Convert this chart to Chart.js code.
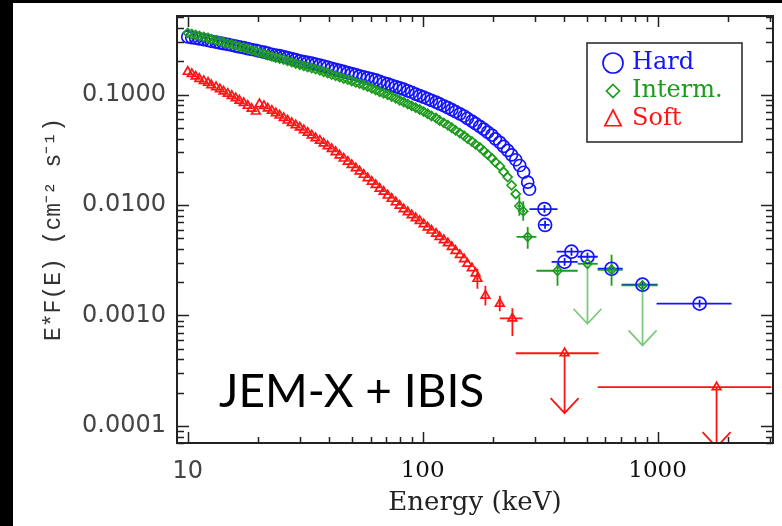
<!DOCTYPE html>
<html>
<head>
<meta charset="utf-8">
<script src="https://cdn.jsdelivr.net/npm/chart.js@4/dist/chart.umd.min.js"></script>
<style>
  html, body { margin: 0; padding: 0; background: #fff; }
  #spec { display: block; }
</style>
</head>
<body>
<canvas id="spec" width="782" height="526"></canvas>
<script>
// JEM-X + IBIS spectra, E in keV, E*F(E) in cm^-2 s^-1
const hardE = [10.0, 10.4, 10.8, 11.2, 11.7, 12.2, 12.6, 13.2, 13.7, 14.2, 14.8, 15.4, 16.0, 16.6, 17.3,
  18.0, 18.7, 19.5, 20.2, 21.1, 21.9, 22.8, 23.7, 24.6, 25.6, 26.6, 27.7, 28.8, 30.0, 31.2, 32.4, 33.7,
  35.0, 36.5, 37.9, 39.4, 41.0, 42.6, 44.3, 46.1, 48.0, 49.9, 51.9, 53.9, 56.1, 58.3, 60.7, 63.1, 65.6,
  68.2, 71.0, 73.8, 76.8, 79.8, 83.0, 86.4, 89.8, 93.4, 97.1, 101, 105, 109, 114, 118, 123, 128, 133, 138,
  144, 150, 155, 162, 168, 175, 182, 189, 197, 204, 213, 221, 230, 239, 249, 259, 269, 280, 285];
const hardF = [0.333, 0.328, 0.324, 0.320, 0.314, 0.309, 0.304, 0.299, 0.294, 0.289, 0.285, 0.280, 0.275,
  0.271, 0.266, 0.261, 0.256, 0.252, 0.247, 0.242, 0.237, 0.232, 0.228, 0.225, 0.221, 0.216, 0.212, 0.207,
  0.202, 0.199, 0.196, 0.193, 0.189, 0.185, 0.181, 0.177, 0.173, 0.169, 0.166, 0.162, 0.158, 0.155, 0.152,
  0.148, 0.145, 0.142, 0.139, 0.136, 0.132, 0.128, 0.125, 0.121, 0.118, 0.115, 0.112, 0.108, 0.105, 0.101,
  0.0979, 0.0947, 0.0917, 0.0887, 0.0856, 0.0824, 0.0793, 0.0762, 0.0731, 0.0700, 0.0670, 0.0640, 0.0608,
  0.0575, 0.0545, 0.0515, 0.0486, 0.0458, 0.0429, 0.0398, 0.0370, 0.0340, 0.0313, 0.0285, 0.0257, 0.0228,
  0.0198, 0.0161, 0.0139];

const intermE = [10.0, 10.4, 10.8, 11.2, 11.7, 12.2, 12.6, 13.2, 13.7, 14.2, 14.8, 15.4, 16.0, 16.6, 17.3,
  18.0, 18.7, 19.5, 20.2, 21.1, 21.9, 22.8, 23.7, 24.6, 25.6, 26.6, 27.7, 28.8, 30.0, 31.2, 32.4, 33.7,
  35.0, 36.5, 37.9, 39.4, 41.0, 42.6, 44.3, 46.1, 48.0, 49.9, 51.9, 53.9, 56.1, 58.3, 60.7, 63.1, 65.6,
  68.2, 71.0, 73.8, 76.8, 79.8, 83.0, 86.4, 89.8, 93.4, 97.1, 101, 105, 109, 114, 118, 123, 128, 133, 138,
  144, 150, 155, 162, 168, 175, 182, 189, 197, 204, 213, 221, 230, 239, 249];
const intermF = [0.362, 0.354, 0.347, 0.340, 0.332, 0.326, 0.318, 0.311, 0.305, 0.298, 0.291, 0.285, 0.279,
  0.272, 0.267, 0.260, 0.253, 0.247, 0.241, 0.234, 0.228, 0.222, 0.217, 0.212, 0.208, 0.202, 0.197, 0.191,
  0.186, 0.182, 0.178, 0.174, 0.170, 0.166, 0.161, 0.157, 0.152, 0.148, 0.144, 0.140, 0.137, 0.133, 0.129,
  0.126, 0.122, 0.118, 0.114, 0.110, 0.106, 0.103, 0.0996, 0.0961, 0.0926, 0.0888, 0.0856, 0.0823, 0.0791,
  0.0762, 0.0733, 0.0701, 0.0670, 0.0641, 0.0613, 0.0583, 0.0555, 0.0528, 0.0501, 0.0474, 0.0448, 0.0424,
  0.0400, 0.0376, 0.0354, 0.0333, 0.0309, 0.0287, 0.0265, 0.0244, 0.0225, 0.0200, 0.0179, 0.0151, 0.0126];

const softE = [10.0, 10.4, 10.8, 11.2, 11.7, 12.2, 12.6, 13.2, 13.7, 14.2, 14.8, 15.4, 16.0, 16.6, 17.3,
  18.0, 18.7, 19.5, 20.2, 21.1, 21.9, 22.8, 23.7, 24.6, 25.6, 26.6, 27.7, 28.8, 30.0, 31.2, 32.4, 33.7,
  35.0, 36.5, 37.9, 39.4, 41.0, 42.6, 44.3, 46.1, 48.0, 49.9, 51.9, 53.9, 56.1, 58.3, 60.7, 63.1, 65.6,
  68.2, 71.0, 73.8, 76.8, 79.8, 83.0, 86.4, 89.8, 93.4, 97.1, 101, 105, 109, 114, 118, 123, 128, 133, 138,
  144, 150, 155, 162, 168];
const softF = [0.161, 0.154, 0.146, 0.139, 0.133, 0.128, 0.122, 0.117, 0.112, 0.107, 0.102, 0.0975, 0.0928,
  0.0883, 0.0840, 0.0793, 0.0746, 0.0703, 0.0821, 0.0791, 0.0751, 0.0715, 0.0680, 0.0647, 0.0616, 0.0583,
  0.0555, 0.0528, 0.0504, 0.0477, 0.0452, 0.0427, 0.0404, 0.0383, 0.0362, 0.0342, 0.0322, 0.0302, 0.0282,
  0.0264, 0.0247, 0.0231, 0.0216, 0.0202, 0.0188, 0.0175, 0.0163, 0.0152, 0.0141, 0.0132, 0.0122, 0.0114,
  0.0106, 0.00986, 0.00918, 0.00861, 0.00811, 0.00762, 0.00718, 0.00671, 0.00628, 0.00588, 0.00550,
  0.00515, 0.00482, 0.00451, 0.00418, 0.00385, 0.00354, 0.00324, 0.00295, 0.00268, 0.00241];

// binned points with error bars (energy bin edges, flux range)
const hardBinE = [330, 332, 402, 430, 503, 637, 863, 1510];
const hardBinF = [0.0092, 0.0066, 0.00306, 0.00378, 0.0034, 0.00265, 0.0019, 0.00128];
const hardBinELo = [285, 315, 354, 372, 457, 556, 703, 990];
const hardBinEHi = [375, 347, 457, 479, 556, 710, 1000, 2065];
const hardBinFLo = [0.0085, 0.0061, 0.00282, 0.00348, 0.00313, 0.00244, 0.00175, 0.00118];
const hardBinFHi = [0.0100, 0.0072, 0.00332, 0.0041, 0.00369, 0.00288, 0.00206, 0.00139];

const intermBinE = [258, 268, 280, 375, 637];
const intermBinF = [0.0098, 0.0088, 0.00515, 0.00254, 0.00259];
const intermBinELo = [253, 263, 251, 305, 556];
const intermBinEHi = [263, 273, 305, 457, 710];
const intermBinFLo = [0.0080, 0.0072, 0.00402, 0.00186, 0.00186];
const intermBinFHi = [0.0120, 0.0108, 0.00634, 0.00306, 0.00355];

const softBinE = [171, 185, 213, 241];
const softBinF = [0.00215, 0.00151, 0.00128, 0.00094];
const softBinELo = [169, 183, 210, 213];
const softBinEHi = [173, 187, 216, 266];
const softBinFLo = [0.00175, 0.00123, 0.00109, 0.00065];
const softBinFHi = [0.00265, 0.00186, 0.00151, 0.00116];

// upper limits
const intermLimE = [503, 863];
const intermLimF = [0.00294, 0.00187];
const intermLimELo = [457, 703];
const intermLimEHi = [556, 1000];

const softLimE = [402, 1783];
const softLimF = [0.000455, 0.000224];
const softLimELo = [249, 556];
const softLimEHi = [561, 3055];

const seriesNames = ['Hard', 'Interm.', 'Soft'];
const xTickLabels = [10, 100, 1000];
const yTickLabels = ['0.0001', '0.0010', '0.0100', '0.1000'];

const BLUE = '#1414ff';
const GREEN = '#1c9c1c';
const RED = '#ff1414';

const pts = (es, fs) => es.map((e, i) => ({ x: e, y: fs[i] }));

const isDecade = v => Math.abs(Math.log10(v) - Math.round(Math.log10(v))) < 1e-6;

function marker(style, color, radius) {
  return {
    showLine: false,
    pointStyle: style,
    pointRadius: radius,
    pointBorderColor: color,
    pointBackgroundColor: 'rgba(0,0,0,0)',
    pointBorderWidth: 1.7,
    borderColor: color,
    backgroundColor: 'rgba(0,0,0,0)'
  };
}

// error bars and upper-limit arrows, under the markers
const errorBars = {
  id: 'errorBars',
  beforeDatasetsDraw(chart) {
    const { ctx, chartArea: a, scales: { x, y } } = chart;
    ctx.save();
    ctx.beginPath();
    ctx.rect(a.left, a.top, a.right - a.left, a.bottom - a.top);
    ctx.clip();
    chart.data.datasets.forEach(ds => {
      if (!ds.eLo) return;
      ds.data.forEach((p, i) => {
        const px = x.getPixelForValue(p.x);
        const py = y.getPixelForValue(p.y);
        ctx.strokeStyle = ds.borderColor;
        ctx.lineWidth = 1.8;
        ctx.beginPath();
        ctx.moveTo(x.getPixelForValue(ds.eLo[i]), py);
        ctx.lineTo(x.getPixelForValue(ds.eHi[i]), py);
        if (ds.fLo) {
          ctx.moveTo(px, y.getPixelForValue(ds.fLo[i]));
          ctx.lineTo(px, y.getPixelForValue(ds.fHi[i]));
        }
        ctx.stroke();
        if (ds.upperLimit) {
          ctx.strokeStyle = ds.arrowColor;
          ctx.lineWidth = 1.8;
          ctx.beginPath();
          ctx.moveTo(px, py);
          ctx.lineTo(px, py + 60);
          ctx.moveTo(px - 14, py + 45);
          ctx.lineTo(px, py + 60);
          ctx.lineTo(px + 14, py + 45);
          ctx.stroke();
        }
      });
    });
    ctx.restore();
  }
};

// black slide edge, white plot page
const page = {
  id: 'page',
  beforeDraw(chart) {
    const ctx = chart.ctx;
    ctx.save();
    ctx.fillStyle = '#fff';
    ctx.fillRect(0, 0, chart.width, chart.height);
    ctx.fillStyle = '#000';
    ctx.fillRect(0, 0, 13, chart.height);
    ctx.fillRect(0, 0, chart.width, 3);
    ctx.restore();
  }
};

function drawSymbol(ctx, style, cx, cy, r) {
  ctx.beginPath();
  if (style === 'circle') {
    ctx.arc(cx, cy, r, 0, Math.PI * 2);
  } else if (style === 'rectRot') {
    ctx.moveTo(cx, cy - r); ctx.lineTo(cx + r, cy); ctx.lineTo(cx, cy + r); ctx.lineTo(cx - r, cy);
    ctx.closePath();
  } else {
    ctx.moveTo(cx, cy - r); ctx.lineTo(cx + r * 0.9, cy + r * 0.75); ctx.lineTo(cx - r * 0.9, cy + r * 0.75);
    ctx.closePath();
  }
  ctx.stroke();
}

// box, inward ticks on all four sides, legend and instrument label
const frame = {
  id: 'frame',
  afterDraw(chart) {
    const { ctx, chartArea: a, scales: { x, y } } = chart;
    ctx.save();
    ctx.strokeStyle = '#222';
    ctx.lineWidth = 1.5;
    ctx.beginPath();
    for (let d = 1; d <= 3; d++) {
      for (let m = 1; m <= 9; m++) {
        const v = m * Math.pow(10, d);
        if (v < x.min || v > x.max) continue;
        const px = Math.round(x.getPixelForValue(v)) + 0.5;
        const len = m === 1 ? 11 : 6;
        ctx.moveTo(px, a.bottom); ctx.lineTo(px, a.bottom - len);
        ctx.moveTo(px, a.top); ctx.lineTo(px, a.top + len);
      }
    }
    for (let d = -5; d <= -1; d++) {
      for (let m = 1; m <= 9; m++) {
        const v = m * Math.pow(10, d);
        if (v < y.min || v > y.max) continue;
        const py = Math.round(y.getPixelForValue(v)) + 0.5;
        const len = m === 1 ? 12 : 7;
        ctx.moveTo(a.left, py); ctx.lineTo(a.left + len, py);
        ctx.moveTo(a.right, py); ctx.lineTo(a.right - len, py);
      }
    }
    ctx.stroke();
    ctx.lineWidth = 2;
    ctx.strokeRect(a.left, a.top, a.right - a.left, a.bottom - a.top);

    // legend
    ctx.lineWidth = 1.5;
    ctx.strokeStyle = '#222';
    ctx.strokeRect(587, 43, 155, 99);
    const styles = ['circle', 'rectRot', 'triangle'];
    const colors = [BLUE, GREEN, RED];
    const radii = [10, 6.5, 9];
    const rows = [63, 91, 119];
    ctx.font = '24px "DejaVu Serif"';
    ctx.textBaseline = 'middle';
    seriesNames.forEach((name, i) => {
      ctx.strokeStyle = colors[i];
      ctx.lineWidth = 1.7;
      drawSymbol(ctx, styles[i], 613, rows[i], radii[i]);
      ctx.fillStyle = colors[i];
      ctx.fillText(name, 632, rows[i]);
    });

    ctx.fillStyle = '#000';
    ctx.textBaseline = 'alphabetic';
    ctx.font = '46px Lato';
    ctx.fillText('JEM-X + IBIS', 219, 407);
    ctx.restore();
  }
};

const withBars = (obj, lo, hi, flo, fhi) => Object.assign(obj, { eLo: lo, eHi: hi, fLo: flo, fHi: fhi });

new Chart(document.getElementById('spec'), {
  type: 'scatter',
  data: {
    datasets: [
      Object.assign({ label: seriesNames[2], data: pts(softE, softF), order: 3 }, marker('triangle', RED, 5)),
      withBars(Object.assign({ data: pts(softBinE, softBinF), order: 3 }, marker('triangle', RED, 5)),
        softBinELo, softBinEHi, softBinFLo, softBinFHi),
      Object.assign({ data: pts(softLimE, softLimF), order: 3, upperLimit: true, arrowColor: RED,
        eLo: softLimELo, eHi: softLimEHi }, marker('triangle', RED, 5)),
      Object.assign({ label: seriesNames[0], data: pts(hardE, hardF), order: 2 }, marker('circle', BLUE, 6)),
      withBars(Object.assign({ data: pts(hardBinE, hardBinF), order: 2 }, marker('circle', BLUE, 6.5)),
        hardBinELo, hardBinEHi, hardBinFLo, hardBinFHi),
      Object.assign({ label: seriesNames[1], data: pts(intermE, intermF), order: 1 }, marker('rectRot', GREEN, 4.5)),
      withBars(Object.assign({ data: pts(intermBinE, intermBinF), order: 1 }, marker('rectRot', GREEN, 4.5)),
        intermBinELo, intermBinEHi, intermBinFLo, intermBinFHi),
      Object.assign({ data: pts(intermLimE, intermLimF), order: 1, upperLimit: true,
        arrowColor: 'rgba(40,165,40,0.6)', eLo: intermLimELo, eHi: intermLimEHi }, marker('rectRot', GREEN, 4.5))
    ]
  },
  options: {
    responsive: false,
    animation: false,
    layout: { padding: { top: 16, right: 9, left: 0, bottom: 0 } },
    plugins: { legend: { display: false }, tooltip: { enabled: false } },
    scales: {
      x: {
        type: 'logarithmic',
        min: 9,
        max: 3100,
        grid: { display: false, drawTicks: false },
        border: { display: false },
        afterFit: s => { s.height = 83; s.paddingLeft = 0; s.paddingRight = 0; },
        ticks: {
          autoSkip: false,
          maxRotation: 0,
          padding: 14,
          color: ctx => (ctx.tick && Math.abs(ctx.tick.value - 10) < 1e-6) ? '#444' : '#111',
          font: ctx => (ctx.tick && Math.abs(ctx.tick.value - 10) < 1e-6)
            ? { family: '"DejaVu Sans"', size: 24 }
            : { family: '"DejaVu Serif"', size: 23 },
          callback: v => {
            const n = Math.round(v);
            return isDecade(v) && xTickLabels.includes(n) ? String(n) : '';
          }
        },
        title: {
          display: true,
          text: 'Energy (keV)',
          color: '#222',
          font: { family: '"DejaVu Serif"', size: 26 },
          padding: { top: 0, bottom: 7 }
        }
      },
      y: {
        type: 'logarithmic',
        min: 7.3e-5,
        max: 0.515,
        grid: { display: false, drawTicks: false },
        border: { display: false },
        afterFit: s => { s.width = 177; s.paddingTop = 0; s.paddingBottom = 0; },
        ticks: {
          autoSkip: false,
          padding: 11,
          color: '#444',
          font: { family: '"DejaVu Sans"', size: 24 },
          callback: v => {
            if (!isDecade(v)) return '';
            const s = v.toFixed(4);
            return yTickLabels.includes(s) ? s : '';
          }
        },
        title: {
          display: true,
          text: 'E*F(E) (cm\u207B\u00B2 s\u207B\u00B9)',
          color: '#333',
          font: { family: '"Liberation Mono"', size: 23 },
          padding: { top: 40, bottom: 0 }
        }
      }
    }
  },
  plugins: [page, errorBars, frame]
});
</script>
</body>
</html>
